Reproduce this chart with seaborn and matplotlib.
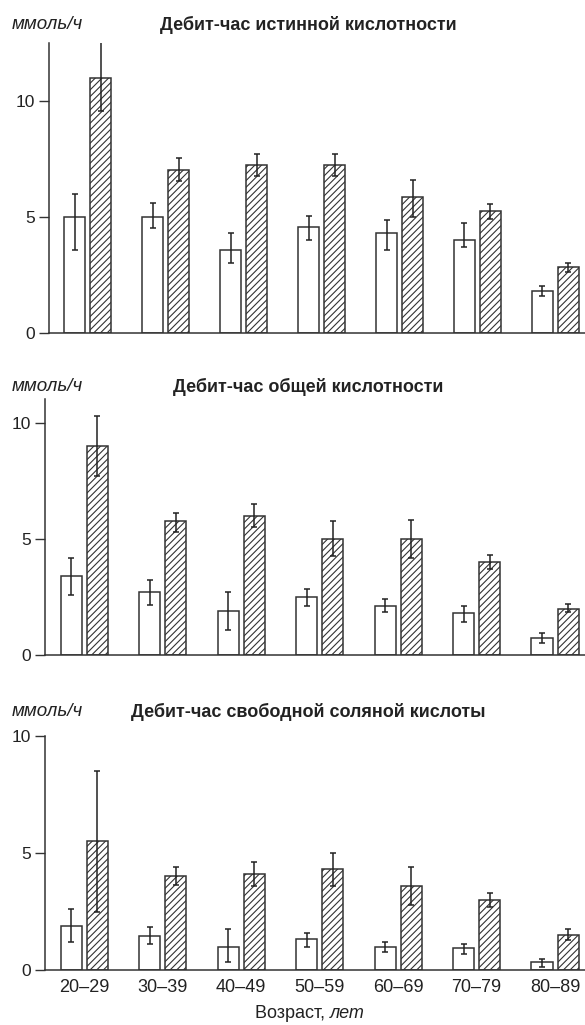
import numpy as np
import pandas as pd
import matplotlib
matplotlib.use("Agg")
import matplotlib.pyplot as plt
from matplotlib.container import BarContainer
import seaborn as sns

sns.set_theme(style="white")
plt.rcParams["font.family"] = ["Liberation Sans", "DejaVu Sans"]
plt.rcParams["hatch.linewidth"] = 0.8

ages = ["20–29", "30–39", "40–49", "50–59", "60–69", "70–79", "80–89"]
groups = ["A", "B"]

# Дебит-час истинной кислотности
true_a = [5.0, 5.0, 3.55, 4.55, 4.3, 4.0, 1.8]
true_a_lo = [3.55, 4.5, 3.0, 4.0, 3.55, 3.7, 1.6]
true_a_hi = [6.0, 5.6, 4.3, 5.05, 4.85, 4.75, 2.0]
true_b = [11.0, 7.0, 7.25, 7.25, 5.85, 5.25, 2.85]
true_b_lo = [9.55, 6.55, 6.75, 6.75, 5.0, 4.9, 2.6]
true_b_hi = [12.55, 7.55, 7.7, 7.7, 6.6, 5.55, 3.0]

# Дебит-час общей кислотности
total_a = [3.4, 2.7, 1.9, 2.5, 2.1, 1.8, 0.75]
total_a_lo = [2.6, 2.15, 1.1, 2.1, 1.85, 1.45, 0.55]
total_a_hi = [4.2, 3.25, 2.7, 2.85, 2.4, 2.1, 0.95]
total_b = [9.0, 5.75, 6.0, 5.0, 5.0, 4.0, 2.0]
total_b_lo = [7.7, 5.3, 5.5, 4.25, 4.2, 3.7, 1.85]
total_b_hi = [10.3, 6.1, 6.5, 5.75, 5.8, 4.3, 2.2]

# Дебит-час свободной соляной кислоты
free_a = [1.9, 1.45, 1.0, 1.35, 1.0, 0.95, 0.35]
free_a_lo = [1.2, 1.1, 0.35, 1.0, 0.8, 0.7, 0.15]
free_a_hi = [2.6, 1.85, 1.75, 1.6, 1.2, 1.1, 0.5]
free_b = [5.5, 4.0, 4.1, 4.3, 3.6, 3.0, 1.5]
free_b_lo = [2.5, 3.65, 3.6, 3.6, 2.8, 2.7, 1.3]
free_b_hi = [8.5, 4.4, 4.6, 5.0, 4.4, 3.3, 1.75]

titles = [
    "Дебит-час истинной кислотности",
    "Дебит-час общей кислотности",
    "Дебит-час свободной соляной кислоты",
]
yticks = [0, 5, 10]
unit_label = "ммоль/ч"

panels = [
    (true_a, true_a_lo, true_a_hi, true_b, true_b_lo, true_b_hi, 12.5),
    (total_a, total_a_lo, total_a_hi, total_b, total_b_lo, total_b_hi, 11.0),
    (free_a, free_a_lo, free_a_hi, free_b, free_b_lo, free_b_hi, 10.0),
]

W, H = 585, 1025
fig = plt.figure(figsize=(W / 100, H / 100), dpi=100)

# axes boxes in pixels: left, top, bottom; header baseline row in pixels
boxes = [(49, 43, 332.7), (45, 399.3, 655.3), (45, 735.7, 970.3)]
header_rows = [24.5, 386.5, 711.5]

ink = "#222222"
edge = "#333333"

for i, ((a, alo, ahi, b, blo, bhi, ytop), (lpx, tpx, bpx)) in enumerate(zip(panels, boxes)):
    ax = fig.add_axes([lpx / W, 1 - bpx / H, (W - lpx) / W, (bpx - tpx) / H])
    df = pd.DataFrame({
        "age": ages * 2,
        "group": [groups[0]] * len(ages) + [groups[1]] * len(ages),
        "value": list(a) + list(b),
    })
    sns.barplot(data=df, x="age", y="value", hue="group", order=ages,
                hue_order=groups, palette=["white", "white"], width=0.667,
                gap=0.19, errorbar=None, edgecolor=edge, linewidth=1.1,
                legend=False, ax=ax)

    bar_sets = [c for c in ax.containers if isinstance(c, BarContainer)]
    means = [a, b]
    los = [alo, blo]
    his = [ahi, bhi]
    for k, cont in enumerate(bar_sets):
        xs = [p.get_x() + p.get_width() / 2 for p in cont.patches]
        m = np.array(means[k])
        lo = np.array(los[k])
        hi = np.array(his[k])
        if k == 1:
            for p in cont.patches:
                p.set_hatch("/////")
                if hasattr(p, "set_hatchcolor"):
                    p.set_hatchcolor("#6a6a6a")
        ax.errorbar(xs, m, yerr=[m - lo, hi - m], fmt="none", ecolor=ink,
                    elinewidth=1.1, capsize=2.2, capthick=1.1, zorder=5)

    ax.set_xlim(-0.5, 6.38)
    ax.set_ylim(0, ytop)
    ax.set_yticks(yticks)
    ax.set_yticklabels([str(t) for t in yticks])
    sns.despine(ax=ax, top=True, right=True)
    for s in ("left", "bottom"):
        ax.spines[s].set_color(edge)
        ax.spines[s].set_linewidth(1.1)
    ax.tick_params(axis="y", which="major", length=7, width=1.0, color=edge,
                   labelsize=12.5, labelcolor=ink, pad=3, left=True)
    ax.set_ylabel("")
    ax.set_xlabel("")
    if i < 2:
        ax.set_xticks([])
    else:
        ax.tick_params(axis="x", length=0, labelsize=13, labelcolor=ink, pad=6)

    # header line: unit and title
    ytxt = 1 - header_rows[i] / H
    fig.text(12 / W, ytxt, unit_label, style="italic", fontsize=13.5,
             color=ink, ha="left", va="center")
    fig.text(308 / W, ytxt, titles[i], fontweight="bold", fontsize=13,
             color=ink, ha="center", va="center")

# x axis caption with italic unit
cap_y = 1 - 1013 / H
t1 = fig.text(0, cap_y, "Возраст, ", fontsize=13, color=ink, ha="left", va="center")
t2 = fig.text(0, cap_y, "лет", fontsize=13, color=ink, style="italic", ha="left", va="center")
fig.canvas.draw()
r = fig.canvas.get_renderer()
w1 = t1.get_window_extent(r).width
w2 = t2.get_window_extent(r).width
x0 = 310 - (w1 + w2) / 2
t1.set_x(x0 / W)
t2.set_x((x0 + w1) / W)

fig.savefig("out.png", dpi=100, facecolor="white")
